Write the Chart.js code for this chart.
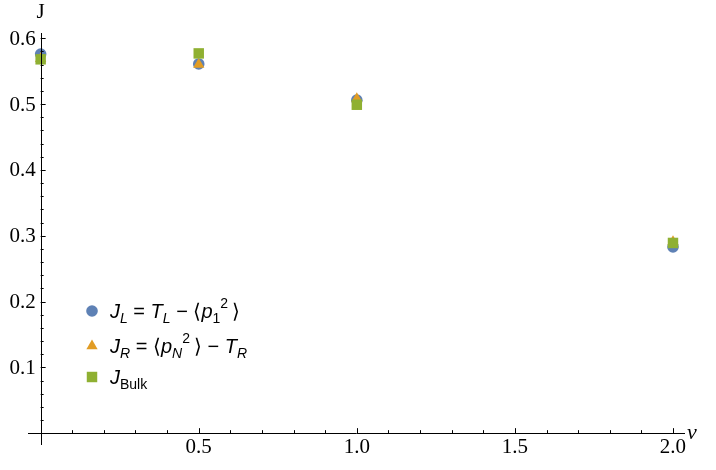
<!DOCTYPE html>
<html>
<head>
<meta charset="utf-8">
<script src="https://cdn.jsdelivr.net/npm/chart.js@4.4.1/dist/chart.umd.min.js"></script>
<style>
body { margin: 0; background: #fff; }
</style>
</head>
<body>
<canvas id="fluxChart" width="716" height="470"></canvas>
<script>
// valeurs
var nu = [0, 0.5, 1, 2];
var jLeft = [0.576, 0.561, 0.506, 0.283];
var jRight = [0.569, 0.560, 0.508, 0.291];
var jBulk = [0.568, 0.577, 0.499, 0.289];

var xTicks = [0.5, 1.0, 1.5, 2.0];
var yTicks = [0.1, 0.2, 0.3, 0.4, 0.5, 0.6];

var blue = "#5E81B5";
var orange = "#E19C24";
var green = "#8FB032";

function toPoints(ys) {
    var pts = [];
    for (var i = 0; i < nu.length; i++) {
        pts.push({ x: nu[i], y: ys[i] });
    }
    return pts;
}

// texte avec indices / exposants
function drawRich(ctx, parts, x, y) {
    var cx = x;
    for (var i = 0; i < parts.length; i++) {
        var p = parts[i];
        ctx.font = p.f;
        ctx.fillText(p.t, cx, y + (p.dy || 0));
        cx += ctx.measureText(p.t).width;
    }
}

var big = "20px 'Liberation Sans'";
var bigIt = "italic 20px 'Liberation Sans'";
var sm = "14px 'Liberation Sans'";
var smIt = "italic 14px 'Liberation Sans'";

var legendRows = [
    { color: blue, style: "circle", r: 5.8, parts: [
        { t: "J", f: bigIt }, { t: "L", f: smIt, dy: 5 }, { t: " = ", f: big },
        { t: "T", f: bigIt }, { t: "L", f: smIt, dy: 5 }, { t: " \u2212 \u27E8", f: big },
        { t: "p", f: bigIt }, { t: "1", f: sm, dy: 5 }, { t: "2", f: sm, dy: -10 },
        { t: "\u2009\u27E9", f: big }] },
    { color: orange, style: "triangle", r: 6.5, parts: [
        { t: "J", f: bigIt }, { t: "R", f: smIt, dy: 5 }, { t: " = \u27E8", f: big },
        { t: "p", f: bigIt }, { t: "N", f: smIt, dy: 5 }, { t: "2", f: sm, dy: -10 },
        { t: "\u2009\u27E9 \u2212 ", f: big }, { t: "T", f: bigIt }, { t: "R", f: smIt, dy: 5 }] },
    { color: green, style: "rect", r: 7.4, parts: [
        { t: "J", f: bigIt }, { t: "Bulk", f: sm, dy: 5 }] }
];
var legendY = [311, 346, 377];

var axesPlugin = {
    id: "axesPlugin",
    afterDatasetsDraw: function(chart) {
        var ctx = chart.ctx;
        var xs = chart.scales.x;
        var ys = chart.scales.y;
        var area = chart.chartArea;
        var x0 = xs.getPixelForValue(0);
        var y0 = ys.getPixelForValue(0);
        ctx.save();
        ctx.strokeStyle = "#000";
        ctx.lineWidth = 1;
        ctx.beginPath();
        ctx.moveTo(area.left, Math.round(y0) + 0.5);
        ctx.lineTo(area.right, Math.round(y0) + 0.5);
        ctx.moveTo(Math.round(x0) + 0.5, area.top);
        ctx.lineTo(Math.round(x0) + 0.5, area.bottom);
        // graduations x
        for (var i = 1; i <= 20; i++) {
            var v = i / 10;
            var px = Math.round(xs.getPixelForValue(v)) + 0.5;
            var len = (i % 5 === 0) ? 5 : 3;
            ctx.moveTo(px, y0);
            ctx.lineTo(px, y0 - len);
        }
        // graduations y
        for (var j = 1; j <= 30; j++) {
            var w = j / 50;
            var py = Math.round(ys.getPixelForValue(w)) + 0.5;
            var l = (j % 5 === 0) ? 5 : 3;
            ctx.moveTo(x0, py);
            ctx.lineTo(x0 + l, py);
        }
        ctx.stroke();

        ctx.fillStyle = "#000";
        ctx.font = "21px 'Liberation Serif'";
        ctx.textAlign = "center";
        ctx.textBaseline = "middle";
        xTicks.forEach(function(t) {
            ctx.fillText(t.toFixed(1), xs.getPixelForValue(t), y0 + 14);
        });
        ctx.textAlign = "right";
        yTicks.forEach(function(t) {
            ctx.fillText(t.toFixed(1), x0 - 5, ys.getPixelForValue(t) + 1);
        });

        // titres des axes
        ctx.textAlign = "center";
        ctx.font = "21px 'Liberation Serif'";
        ctx.fillText("J", x0, 12);
        ctx.textAlign = "left";
        ctx.textBaseline = "alphabetic";
        ctx.font = "italic 22px 'Liberation Serif'";
        ctx.fillText("\u03BD", 687, 439);

        // légende
        legendRows.forEach(function(row, k) {
            ctx.fillStyle = row.color;
            Chart.helpers.drawPoint(ctx, { pointStyle: row.style, radius: row.r, rotation: 0, borderWidth: 0 }, 92, legendY[k]);
            ctx.fillStyle = "#000";
            drawRich(ctx, row.parts, 110, legendY[k] + 7);
        });
        ctx.restore();
    }
};

var ctx = document.getElementById("fluxChart").getContext("2d");
var fluxChart = new Chart(ctx, {
    type: "scatter",
    data: {
        datasets: [
            { label: "J_L", data: toPoints(jLeft), pointStyle: "circle", pointRadius: 5.8,
              backgroundColor: blue, borderWidth: 0, order: 3 },
            { label: "J_R", data: toPoints(jRight), pointStyle: "triangle", pointRadius: 6.5,
              backgroundColor: orange, borderWidth: 0, order: 2 },
            { label: "J_Bulk", data: toPoints(jBulk), pointStyle: "rect", pointRadius: 7.4,
              backgroundColor: green, borderWidth: 0, order: 1 }
        ]
    },
    options: {
        responsive: false,
        devicePixelRatio: 1,
        animation: false,
        layout: { padding: { left: 28, right: 31, top: 33, bottom: 25 } },
        plugins: { legend: { display: false }, tooltip: { enabled: false } },
        scales: {
            x: { type: "linear", min: -0.04, max: 2.038, display: false },
            y: { type: "linear", min: -0.018, max: 0.608, display: false }
        }
    },
    plugins: [axesPlugin]
});
</script>
</body>
</html>
